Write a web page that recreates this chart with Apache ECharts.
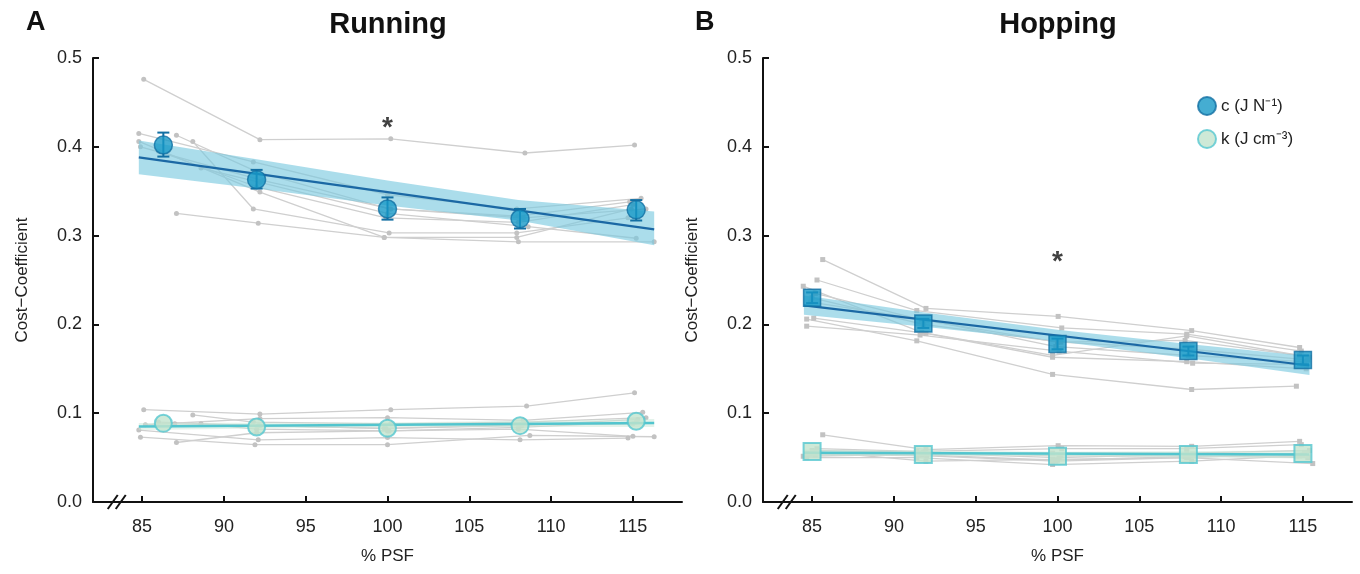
<!DOCTYPE html>
<html><head><meta charset="utf-8">
<script src="https://cdn.jsdelivr.net/npm/echarts@6/dist/echarts.min.js"></script>
<style>html,body{margin:0;padding:0;background:#fff}#c{width:1360px;height:574px}</style>
</head><body><div id="c"></div>
<script>
// ---------- data ----------
const xTicks = [85, 90, 95, 100, 105, 110, 115];
const yTicks = [0, 0.1, 0.2, 0.3, 0.4, 0.5];

// Running – individual subjects, cost coefficient c
const runSubjC = [
  [[85.1,0.476],[92.2,0.408],[100.2,0.409],[108.4,0.393],[115.1,0.402]],
  [[84.8,0.415],[91.8,0.383],[100.0,0.346],[107.9,0.330],[115.5,0.342]],
  [[87.1,0.413],[92.0,0.372],[100.1,0.330],[108.0,0.322],[114.8,0.338]],
  [[88.1,0.406],[91.8,0.330],[100.1,0.303],[107.9,0.303],[114.7,0.320]],
  [[84.8,0.406],[92.2,0.349],[99.8,0.298],[108.0,0.293],[116.3,0.293]],
  [[88.6,0.376],[92.2,0.360],[100.0,0.325],[108.6,0.310],[115.2,0.297]],
  [[87.1,0.325],[92.1,0.314],[99.8,0.298],[107.9,0.298],[114.9,0.330]],
  [[84.9,0.400],[92.4,0.362],[100.2,0.330],[108.3,0.320],[115.8,0.330]],
  [[86.0,0.395],[92.0,0.355],[99.9,0.320],[108.0,0.315],[115.0,0.335]]
];
// Running – individual subjects, k
const runSubjK = [
  [[85.1,0.104],[92.2,0.099],[100.2,0.104],[108.5,0.108],[115.1,0.123]],
  [[85.2,0.087],[92.2,0.094],[100.0,0.095],[108.3,0.092],[115.6,0.101]],
  [[84.8,0.081],[92.1,0.070],[100.0,0.0725],[108.1,0.070],[114.7,0.072]],
  [[84.9,0.073],[91.9,0.0645],[100.0,0.0645],[108.7,0.075],[116.3,0.0735]],
  [[87.1,0.067],[92.0,0.078],[100.0,0.080],[108.0,0.082],[115.0,0.074]],
  [[87.0,0.088],[92.2,0.086],[99.8,0.083],[108.2,0.086],[115.3,0.093]],
  [[88.6,0.088],[92.0,0.082],[100.1,0.080],[108.0,0.084],[115.2,0.090]],
  [[88.1,0.098],[91.8,0.090],[100.2,0.088],[108.4,0.090],[115.8,0.095]],
  [[86.0,0.090],[92.1,0.086],[99.9,0.083],[108.1,0.087],[115.0,0.088]]
];
const runMeanX = [86.3, 92.0, 100.0, 108.1, 115.2];
const runMeanC = [0.402, 0.363, 0.330, 0.319, 0.329];
const runErrLo = [0.389, 0.353, 0.318, 0.308, 0.317];
const runErrHi = [0.416, 0.374, 0.343, 0.330, 0.340];
const runMeanK = [0.0886, 0.0845, 0.083, 0.086, 0.091];
const runFitCX = [84.8, 116.3];
const runFitCY = [0.388, 0.307];
const runBandCX = [84.8, 92, 100, 108, 116.3];
const runBandCLo = [0.369, 0.353, 0.334, 0.317, 0.289];
const runBandCHi = [0.407, 0.386, 0.362, 0.340, 0.327];
const runFitKX = [84.8, 116.3];
const runFitKY = [0.085, 0.089];
const runBandKX = [84.8, 100, 116.3];
const runBandKLo = [0.081, 0.0845, 0.0845];
const runBandKHi = [0.089, 0.0895, 0.0935];
const runStar = [100, 0.421];

// Hopping
const hopSubjC = [
  [[85.65,0.273],[91.96,0.218],[100.04,0.209],[108.2,0.193],[114.8,0.174]],
  [[85.3,0.250],[91.4,0.2156],[100.26,0.196],[107.9,0.189],[114.9,0.170]],
  [[84.46,0.243],[91.7,0.191],[99.7,0.165],[107.9,0.187],[115.4,0.163]],
  [[84.67,0.206],[91.4,0.1815],[99.7,0.1437],[108.2,0.1267],[114.6,0.1304]],
  [[85.1,0.207],[91.96,0.190],[99.7,0.163],[107.9,0.158],[115.2,0.150]],
  [[84.67,0.198],[91.6,0.188],[100.1,0.170],[108.26,0.1563],[115.0,0.155]],
  [[85.0,0.230],[91.8,0.200],[100.2,0.180],[108.1,0.172],[115.3,0.160]],
  [[84.9,0.225],[92.0,0.205],[99.9,0.175],[108.0,0.165],[115.1,0.158]],
  [[85.2,0.235],[91.7,0.205],[100.0,0.180],[107.8,0.182],[114.8,0.165]]
];
const hopSubjK = [
  [[85.65,0.0757],[91.96,0.059],[100.04,0.0634],[108.2,0.0627],[114.8,0.0683]],
  [[85.3,0.060],[91.4,0.057],[100.26,0.060],[107.9,0.060],[114.9,0.0646]],
  [[84.46,0.0515],[91.7,0.054],[99.7,0.055],[107.9,0.055],[115.4,0.058]],
  [[84.67,0.050],[91.4,0.050],[99.7,0.0422],[108.2,0.046],[114.6,0.052]],
  [[85.1,0.057],[91.96,0.046],[99.7,0.048],[107.9,0.050],[115.6,0.0433]],
  [[84.67,0.055],[91.6,0.055],[100.1,0.050],[108.26,0.054],[115.0,0.053]],
  [[85.0,0.058],[91.8,0.056],[100.2,0.052],[108.1,0.052],[115.3,0.050]],
  [[84.9,0.054],[92.0,0.052],[99.9,0.046],[108.0,0.050],[115.1,0.055]],
  [[85.2,0.053],[91.7,0.053],[100.0,0.047],[107.8,0.051],[114.8,0.052]]
];
const hopMeanX = [85.0, 91.8, 100.0, 108.0, 115.0];
const hopMeanC = [0.230, 0.201, 0.178, 0.170, 0.160];
const hopErrLo = [0.224, 0.196, 0.172, 0.165, 0.155];
const hopErrHi = [0.236, 0.206, 0.184, 0.175, 0.165];
const hopMeanK = [0.057, 0.0535, 0.0515, 0.0535, 0.0545];
const hopFitCX = [84.5, 115.4];
const hopFitCY = [0.2215, 0.1537];
const hopBandCX = [84.5, 92, 100, 108, 115.4];
const hopBandCLo = [0.211, 0.197, 0.181, 0.162, 0.143];
const hopBandCHi = [0.2325, 0.213, 0.194, 0.178, 0.164];
const hopFitKX = [84.5, 115.4];
const hopFitKY = [0.0555, 0.0535];
const hopBandKX = [84.5, 100, 115.4];
const hopBandKLo = [0.052, 0.0515, 0.049];
const hopBandKHi = [0.059, 0.0565, 0.058];
const hopStar = [100, 0.270];

const nameC = 'c (J N\u207B\u00B9)';
const nameK = 'k (J cm\u207B\u00B3)';

// ---------- styles ----------
const C_FILL = '#1798c7', C_BORDER = '#126fa3', C_LINE = '#1b68a4', C_BAND = 'rgba(120,200,223,0.62)';
const K_FILL = '#c2e4cd', K_BORDER = '#55c7cf', K_LINE = '#52c5ce', K_BAND = 'rgba(200,232,215,0.5)';
const GRAY_LINE = '#cfcfcf', GRAY_DOT = '#c2c2c2';
const FONT = 'Liberation Sans, Arial, sans-serif';

const chart = echarts.init(document.getElementById('c'), null, {renderer: 'canvas'});

function pairs(xs, ys) { return xs.map((x, i) => [x, ys[i]]); }

function bandSeries(gi, xs, lo, hi, color, z) {
  return {
    type: 'custom', xAxisIndex: gi, yAxisIndex: gi, silent: true, z: z,
    data: xs.map((x, i) => [x, lo[i], hi[i]]),
    renderItem: function (params, api) {
      if (params.dataIndex !== 0) return null;
      const pts = [];
      for (let i = 0; i < xs.length; i++) pts.push(api.coord([xs[i], hi[i]]));
      for (let i = xs.length - 1; i >= 0; i--) pts.push(api.coord([xs[i], lo[i]]));
      return {type: 'polygon', shape: {points: pts}, style: {fill: color}};
    }
  };
}

function errSeries(gi, xs, lo, hi) {
  return {
    type: 'custom', xAxisIndex: gi, yAxisIndex: gi, silent: true, z: 6,
    data: xs.map((x, i) => [x, lo[i], hi[i]]),
    renderItem: function (params, api) {
      const a = api.coord([api.value(0), api.value(1)]);
      const b = api.coord([api.value(0), api.value(2)]);
      const w = 6;
      const st = {stroke: C_BORDER, lineWidth: 2};
      return {type: 'group', children: [
        {type: 'line', shape: {x1: a[0], y1: a[1], x2: b[0], y2: b[1]}, style: st},
        {type: 'line', shape: {x1: a[0] - w, y1: a[1], x2: a[0] + w, y2: a[1]}, style: st},
        {type: 'line', shape: {x1: b[0] - w, y1: b[1], x2: b[0] + w, y2: b[1]}, style: st}
      ]};
    }
  };
}

function panelSeries(gi, d, sym) {
  const s = [];
  d.subjC.concat(d.subjK).forEach(function (sub) {
    s.push({type: 'line', xAxisIndex: gi, yAxisIndex: gi, silent: true, z: 2,
      data: sub, symbol: sym, symbolSize: 5, showSymbol: true,
      lineStyle: {color: GRAY_LINE, width: 1.3}, itemStyle: {color: GRAY_DOT},
      emphasis: {disabled: true}});
  });
  s.push(bandSeries(gi, d.bandCX, d.bandCLo, d.bandCHi, C_BAND, 3));
  s.push(bandSeries(gi, d.bandKX, d.bandKLo, d.bandKHi, K_BAND, 3));
  s.push({type: 'line', xAxisIndex: gi, yAxisIndex: gi, silent: true, z: 4,
    data: pairs(d.fitCX, d.fitCY), symbol: 'none', lineStyle: {color: C_LINE, width: 2.2}});
  s.push({type: 'line', xAxisIndex: gi, yAxisIndex: gi, silent: true, z: 4,
    data: pairs(d.fitKX, d.fitKY), symbol: 'none', lineStyle: {color: K_LINE, width: 2.4}});
  s.push(errSeries(gi, d.meanX, d.errLo, d.errHi));
  const circ = sym === 'circle';
  s.push({type: 'scatter', name: nameC, xAxisIndex: gi, yAxisIndex: gi, z: 7,
    data: pairs(d.meanX, d.meanC), symbol: circ ? 'circle' : 'rect',
    symbolSize: circ ? 18 : 17,
    itemStyle: {color: C_FILL, borderColor: C_BORDER, borderWidth: 1.5}});
  s.push({type: 'scatter', name: nameK, xAxisIndex: gi, yAxisIndex: gi, z: 7,
    data: pairs(d.meanX, d.meanK), symbol: circ ? 'circle' : 'rect',
    symbolSize: circ ? 17 : 17,
    itemStyle: {color: K_FILL, borderColor: K_BORDER, borderWidth: 2}});
  s.push({type: 'scatter', xAxisIndex: gi, yAxisIndex: gi, silent: true, z: 8,
    data: [d.star], symbolSize: 1, itemStyle: {color: 'rgba(0,0,0,0)'},
    label: {show: true, position: 'inside', formatter: '*', fontSize: 28, fontWeight: 'bold', fontFamily: FONT, color: '#111'}});
  return s;
}

function xAxis(gi) {
  return {type: 'value', gridIndex: gi, min: 82, max: 118,
    name: '% PSF', nameLocation: 'middle', nameGap: 46,
    nameTextStyle: {fontSize: 17, fontFamily: FONT, color: '#222'},
    axisLine: {show: true, lineStyle: {color: '#111', width: 2}},
    axisTick: {show: true, inside: true, length: 6, lineStyle: {color: '#111', width: 2}, customValues: xTicks},
    axisLabel: {fontSize: 18, fontFamily: FONT, color: '#222', margin: 16, customValues: xTicks},
    splitLine: {show: false}};
}
function yAxis(gi) {
  return {type: 'value', gridIndex: gi, min: 0, max: 0.5, interval: 0.1,
    name: 'Cost\u2212Coefficient', nameLocation: 'middle', nameGap: 62,
    nameTextStyle: {fontSize: 17, fontFamily: FONT, color: '#222'},
    axisLine: {show: true, lineStyle: {color: '#111', width: 2}},
    axisTick: {show: true, inside: true, length: 6, lineStyle: {color: '#111', width: 2}},
    axisLabel: {fontSize: 18, fontFamily: FONT, color: '#222', margin: 11, formatter: v => v.toFixed(1)},
    splitLine: {show: false}};
}

const run = {subjC: runSubjC, subjK: runSubjK, meanX: runMeanX, meanC: runMeanC, errLo: runErrLo, errHi: runErrHi,
  meanK: runMeanK, fitCX: runFitCX, fitCY: runFitCY, bandCX: runBandCX, bandCLo: runBandCLo, bandCHi: runBandCHi,
  fitKX: runFitKX, fitKY: runFitKY, bandKX: runBandKX, bandKLo: runBandKLo, bandKHi: runBandKHi, star: runStar};
const hop = {subjC: hopSubjC, subjK: hopSubjK, meanX: hopMeanX, meanC: hopMeanC, errLo: hopErrLo, errHi: hopErrHi,
  meanK: hopMeanK, fitCX: hopFitCX, fitCY: hopFitCY, bandCX: hopBandCX, bandCLo: hopBandCLo, bandCHi: hopBandCHi,
  fitKX: hopFitKX, fitKY: hopFitKY, bandKX: hopBandKX, bandKLo: hopBandKLo, bandKHi: hopBandKHi, star: hopStar};

const option = {
  backgroundColor: '#fff',
  animation: false,
  textStyle: {fontFamily: FONT},
  grid: [
    {left: 93, width: 589, top: 58, bottom: 72, containLabel: false},
    {left: 763, width: 589, top: 58, bottom: 72, containLabel: false}
  ],
  xAxis: [xAxis(0), xAxis(1)],
  yAxis: [yAxis(0), yAxis(1)],
  legend: {
    data: [{name: nameC, icon: 'circle'}, {name: nameK, icon: 'circle'}],
    orient: 'vertical', left: 1192, top: 91, itemWidth: 18, itemHeight: 18, itemGap: 13,
    selectedMode: false,
    textStyle: {fontSize: 17, fontFamily: FONT, color: '#222'}
  },
  graphic: [
    {type: 'text', left: 26, top: 9, style: {text: 'A', fontSize: 27, fontWeight: 'bold', fontFamily: FONT, fill: '#111'}},
    {type: 'text', left: 695, top: 9, style: {text: 'B', fontSize: 27, fontWeight: 'bold', fontFamily: FONT, fill: '#111'}},
    {type: 'text', x: 388, y: 10, style: {text: 'Running', fontSize: 29, fontWeight: 'bold', fontFamily: FONT, fill: '#111', textAlign: 'center'}},
    {type: 'text', x: 1058, y: 10, style: {text: 'Hopping', fontSize: 29, fontWeight: 'bold', fontFamily: FONT, fill: '#111', textAlign: 'center'}}
  ],
  series: panelSeries(0, run, 'circle').concat(panelSeries(1, hop, 'rect'))
};
chart.setOption(option);

// axis break marks
const breaks = [];
[0, 1].forEach(function (gi) {
  const p = chart.convertToPixel({xAxisIndex: gi, yAxisIndex: gi}, [83.45, 0]);
  [-4, 4].forEach(function (dx) {
    breaks.push({type: 'line', z: 100, shape: {x1: p[0] + dx - 5, y1: p[1] + 7, x2: p[0] + dx + 5, y2: p[1] - 7},
      style: {stroke: '#111', lineWidth: 2}});
  });
});
chart.setOption({graphic: option.graphic.concat(breaks)});
</script></body></html>
